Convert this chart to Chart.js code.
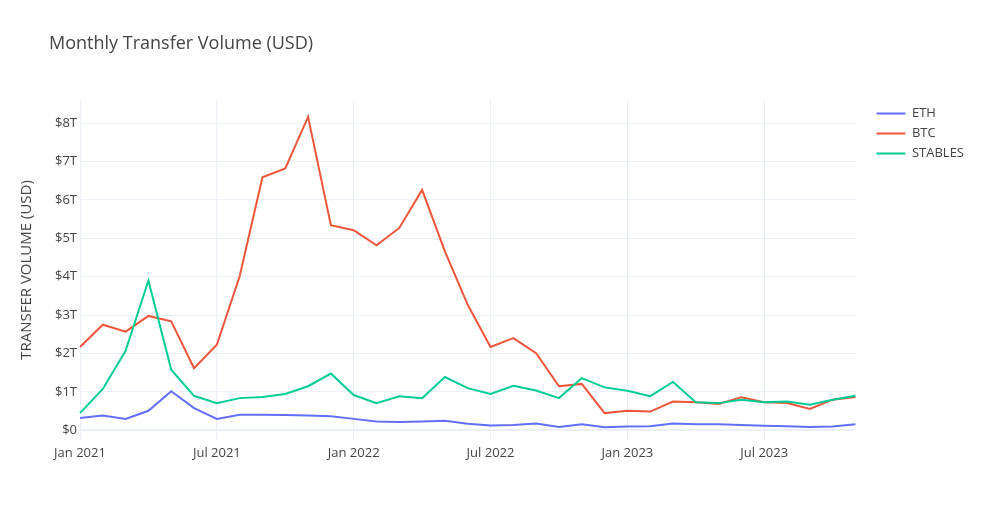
<!doctype html>
<html lang="en">
  <head>
    <script src="https://cdn.jsdelivr.net/npm/chart.js"></script>
    <style>
      body { margin: 0; background: #fff; }
      #wrap { width: 983px; height: 525px; }
    </style>
  </head>
  <body>
    <div id="wrap"><canvas id="myChart" width="983" height="525"></canvas></div>
    <script>
      // monthly totals, trillions of USD
      const months = [
        'Jan 2021', 'Feb 2021', 'Mar 2021', 'Apr 2021', 'May 2021', 'Jun 2021',
        'Jul 2021', 'Aug 2021', 'Sep 2021', 'Oct 2021', 'Nov 2021', 'Dec 2021',
        'Jan 2022', 'Feb 2022', 'Mar 2022', 'Apr 2022', 'May 2022', 'Jun 2022',
        'Jul 2022', 'Aug 2022', 'Sep 2022', 'Oct 2022', 'Nov 2022', 'Dec 2022',
        'Jan 2023', 'Feb 2023', 'Mar 2023', 'Apr 2023', 'May 2023', 'Jun 2023',
        'Jul 2023', 'Aug 2023', 'Sep 2023', 'Oct 2023', 'Nov 2023'
      ];
      const ethVolume = [
        0.32, 0.39, 0.30, 0.51, 1.02, 0.58, 0.30, 0.41, 0.41, 0.40, 0.39, 0.37,
        0.30, 0.23, 0.22, 0.23, 0.25, 0.17, 0.13, 0.14, 0.18, 0.09, 0.16, 0.08,
        0.10, 0.11, 0.18, 0.16, 0.16, 0.14, 0.12, 0.11, 0.09, 0.10, 0.16
      ];
      const btcVolume = [
        2.17, 2.75, 2.57, 2.98, 2.84, 1.62, 2.23, 4.01, 6.59, 6.82, 8.16, 5.34,
        5.21, 4.82, 5.27, 6.26, 4.66, 3.27, 2.17, 2.40, 2.01, 1.15, 1.21, 0.45,
        0.51, 0.49, 0.75, 0.73, 0.69, 0.86, 0.73, 0.71, 0.56, 0.80, 0.87
      ];
      const stablesVolume = [
        0.45, 1.08, 2.07, 3.90, 1.58, 0.90, 0.71, 0.84, 0.87, 0.95, 1.15, 1.48,
        0.92, 0.71, 0.89, 0.84, 1.39, 1.10, 0.95, 1.16, 1.04, 0.84, 1.36, 1.12,
        1.03, 0.89, 1.26, 0.73, 0.71, 0.80, 0.73, 0.75, 0.67, 0.80, 0.90
      ];
      const yTicks = [0, 1, 2, 3, 4, 5, 6, 7, 8];

      const gridColor = '#EBF0F8';
      const fontFamily = '"Open Sans", "Liberation Sans", sans-serif';
      Chart.defaults.font.family = fontFamily;
      Chart.defaults.color = '#444';

      // plotly style title, sits left of the plot
      const titlePlugin = {
        id: 'plotTitle',
        afterDraw(chart) {
          const ctx = chart.ctx;
          ctx.save();
          ctx.font = '18px ' + fontFamily;
          ctx.fillStyle = '#444';
          ctx.textBaseline = 'middle';
          ctx.fillText('Monthly Transfer Volume (USD)', 49, 44);
          ctx.restore();
        }
      };

      function makeSet(label, values, color, order) {
        return {
          label: label,
          data: values,
          borderColor: color,
          backgroundColor: color,
          borderWidth: 2,
          pointRadius: 0,
          tension: 0,
          fill: false,
          order: order
        };
      }

      var canvas = document.getElementById('myChart');
      var chart = new Chart(canvas, {
        type: 'line',
        data: {
          labels: months,
          datasets: [
            makeSet('ETH', ethVolume, '#636efa', 3),
            makeSet('BTC', btcVolume, '#EF553B', 2),
            makeSet('STABLES', stablesVolume, '#00cc96', 1)
          ]
        },
        plugins: [titlePlugin],
        options: {
          responsive: false,
          animation: false,
          layout: {
            padding: { left: 15, top: 100, bottom: 65, right: 9 }
          },
          plugins: {
            title: { display: false },
            tooltip: { enabled: false },
            legend: {
              position: 'right',
              align: 'start',
              labels: {
                usePointStyle: true,
                pointStyle: 'line',
                pointStyleWidth: 29,
                padding: 7,
                color: '#444',
                font: { size: 13 },
                sort: (a, b) => a.datasetIndex - b.datasetIndex
              }
            }
          },
          scales: {
            x: {
              offset: false,
              border: { display: false },
              grid: {
                offset: false,
                drawTicks: false,
                color: (c) => (c.index % 6 === 0 ? gridColor : 'transparent')
              },
              ticks: {
                autoSkip: false,
                maxRotation: 0,
                padding: 5,
                font: { size: 13 },
                callback: function (val, i) {
                  return i % 6 === 0 ? this.getLabelForValue(val) : '';
                }
              },
              afterFit: (s) => { s.height = 20; }
            },
            y: {
              min: -0.25,
              max: 8.6,
              border: { display: false },
              grid: {
                drawTicks: false,
                color: gridColor,
                lineWidth: (c) => (c.tick && c.tick.value === 0 ? 2 : 1)
              },
              ticks: {
                stepSize: 1,
                includeBounds: false,
                padding: 3,
                font: { size: 13 },
                callback: (v) => (yTicks.includes(v) ? (v === 0 ? '$0' : '$' + v + 'T') : '')
              },
              title: {
                display: true,
                text: 'TRANSFER VOLUME (USD)',
                color: '#444',
                font: { size: 15 },
                padding: { top: 3, bottom: 0 }
              },
              afterFit: (s) => { s.width = 65; }
            },
            // empty spacer between plot and legend
            gap: {
              type: 'linear',
              position: 'right',
              grid: { display: false },
              border: { display: false },
              ticks: { display: false },
              afterFit: (s) => { s.width = 14; }
            }
          }
        }
      });
    </script>
  </body>
</html>
